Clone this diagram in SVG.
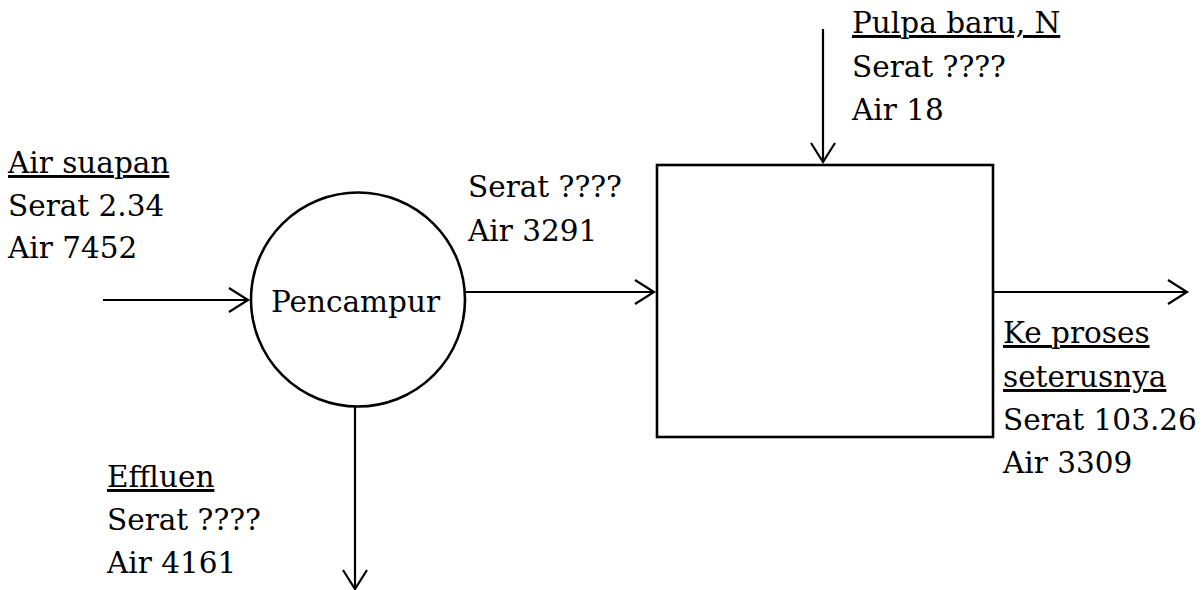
<svg xmlns="http://www.w3.org/2000/svg" width="1204" height="590" viewBox="0 0 1204 590">
<defs>
<style>
.t{font-family:'DejaVu Serif','Liberation Serif','Times New Roman',serif;font-size:29.5px;fill:#000}
.u{text-decoration:underline}
.ln{stroke:#000;stroke-width:2.2;fill:none}
.shape{stroke:#000;stroke-width:2.6;fill:#fff}
</style>
<marker id="arr" markerWidth="24" markerHeight="28" refX="20" refY="13" orient="auto" markerUnits="userSpaceOnUse">
<path d="M1,1 L20,13 L1,25" fill="none" stroke="#000" stroke-width="2.2"/>
</marker>
</defs>
<rect width="1204" height="590" fill="#fff"/>
<g id="connectors">
<line class="ln" x1="103" y1="300" x2="248" y2="300" marker-end="url(#arr)"/>
<line class="ln" x1="466" y1="292" x2="654" y2="292" marker-end="url(#arr)"/>
<line class="ln" x1="993" y1="292" x2="1187" y2="292" marker-end="url(#arr)"/>
<line class="ln" x1="823" y1="29" x2="823" y2="162" marker-end="url(#arr)"/>
<line class="ln" x1="355" y1="407" x2="355" y2="589" marker-end="url(#arr)"/>
</g>
<g id="pencampur">
<circle class="shape" cx="358" cy="299.5" r="107"/>
<text class="t" x="271" y="312">Pencampur</text>
</g>
<g id="proses">
<rect class="shape" x="657" y="165" width="336" height="272"/>
</g>
<g id="label-air-suapan">
<text x="8" y="173" class="t u">Air suapan</text>
<text x="8" y="216" class="t">Serat 2.34</text>
<text x="8" y="258" class="t">Air 7452</text>
</g>
<g id="label-mid">
<text x="468" y="197" class="t">Serat ????</text>
<text x="468" y="241" class="t">Air 3291</text>
</g>
<g id="label-pulpa">
<text x="852" y="33" class="t u">Pulpa baru, N</text>
<text x="852" y="77" class="t">Serat ????</text>
<text x="852" y="120" class="t">Air 18</text>
</g>
<g id="label-keluar">
<text x="1003" y="343" class="t u">Ke proses</text>
<text x="1003" y="387" class="t u">seterusnya</text>
<text x="1003" y="430" class="t">Serat 103.26</text>
<text x="1003" y="473" class="t">Air 3309</text>
</g>
<g id="label-effluen">
<text x="107" y="487" class="t u">Effluen</text>
<text x="107" y="530" class="t">Serat ????</text>
<text x="107" y="573" class="t">Air 4161</text>
</g>
</svg>
